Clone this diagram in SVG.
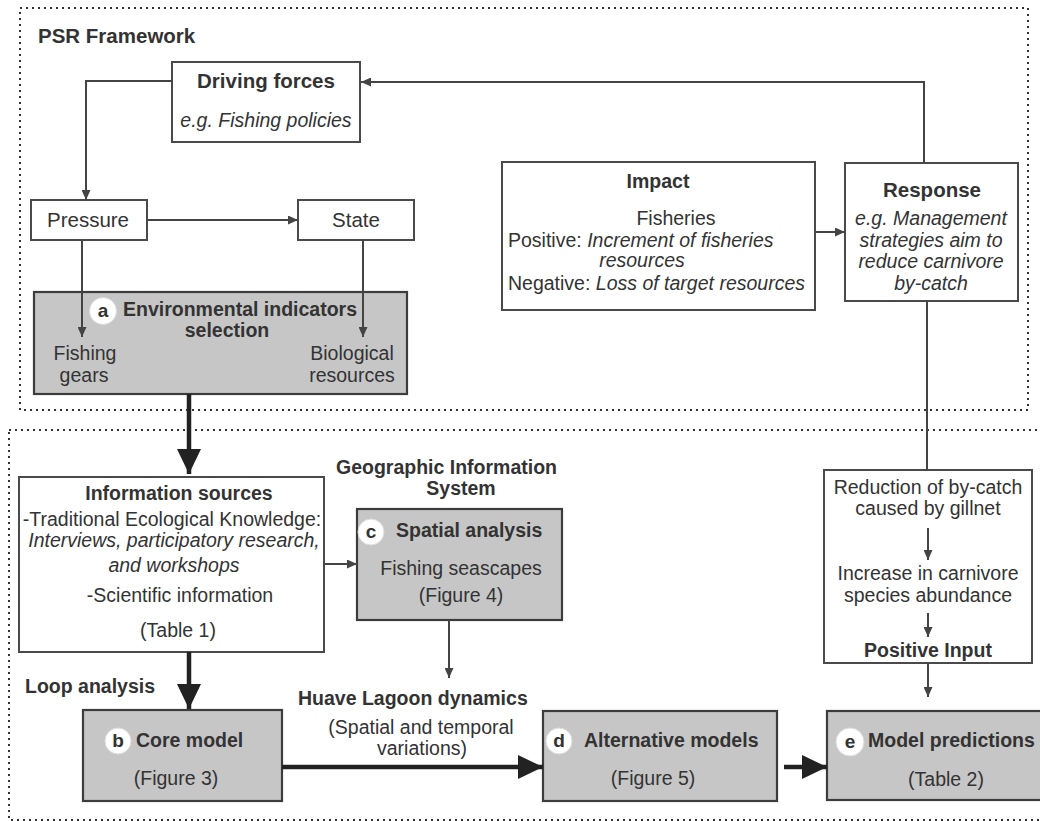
<svg xmlns="http://www.w3.org/2000/svg" width="1040" height="821" viewBox="0 0 1040 821">
<style>
text{font-family:"Liberation Sans",Arial,sans-serif;font-size:19.5px;fill:#333}
.b{font-weight:bold}
.i{font-style:italic}
.m{text-anchor:middle}
.box{fill:#fff;stroke:#4a4a4a;stroke-width:2}
.gbox{fill:#c6c6c6;stroke:#3c3c3c;stroke-width:2.2}
.frame{fill:none;stroke:#333;stroke-width:2;stroke-dasharray:2 4}
.thin{fill:none;stroke:#444;stroke-width:2}
.thick{fill:none;stroke:#222;stroke-width:4.5}
.circ{fill:#fff;stroke:#ddd;stroke-width:1}
.lt{font-size:19px;font-weight:bold;text-anchor:middle}
</style>
<defs>
<marker id="ah" markerUnits="userSpaceOnUse" markerWidth="10" markerHeight="9" refX="10" refY="4.5" orient="auto"><path d="M0,0 L10,4.5 L0,9 z" fill="#444"/></marker>
<marker id="ahT" markerUnits="userSpaceOnUse" markerWidth="25" markerHeight="24" refX="25" refY="12" orient="auto"><path d="M0,0 L25,12 L0,24 z" fill="#222"/></marker>
</defs>
<rect width="1040" height="821" fill="#fff"/>
<g id="frames">
<rect class="frame" x="20" y="8" width="1008" height="402"/>
<rect class="frame" x="9" y="430" width="1040" height="390"/>
</g>
<g id="labels">
<text class="b" x="38" y="43" style="font-size:20.5px">PSR Framework</text>
<text class="b" x="336" y="474">Geographic Information</text>
<text class="b m" x="461" y="495">System</text>
<text class="b" x="25" y="693">Loop analysis</text>
<text class="b" x="298" y="705">Huave Lagoon dynamics</text>
<text class="m" x="421" y="734">(Spatial and temporal</text>
<text class="m" x="422" y="755">variations)</text>
</g>
<g id="n-driving">
<rect class="box" x="172" y="62" width="188" height="80"/>
<text class="b m" x="266" y="88" style="font-size:20.5px">Driving forces</text>
<text class="i m" x="266" y="127">e.g. Fishing policies</text>
</g>
<g id="n-pressure">
<rect class="box" x="31" y="200" width="116" height="40"/>
<text class="m" x="88" y="227" style="font-size:20.5px">Pressure</text>
</g>
<g id="n-state">
<rect class="box" x="298" y="200" width="116" height="40"/>
<text class="m" x="356" y="227" style="font-size:20.5px">State</text>
</g>
<g id="n-impact">
<rect class="box" x="502" y="162" width="313" height="148"/>
<text class="b m" x="658" y="188">Impact</text>
<text class="m" x="676" y="225">Fisheries</text>
<text x="508" y="247">Positive: <tspan class="i">Increment of fisheries</tspan></text>
<text class="i m" x="642" y="267">resources</text>
<text x="508" y="290">Negative: <tspan class="i">Loss of target resources</tspan></text>
</g>
<g id="n-response">
<rect class="box" x="845" y="163" width="173" height="138"/>
<text class="b m" x="932" y="197" style="font-size:20.5px">Response</text>
<text class="i m" x="931" y="225">e.g. Management</text>
<text class="i m" x="931" y="247">strategies aim to</text>
<text class="i m" x="931" y="268">reduce carnivore</text>
<text class="i m" x="931" y="290">by-catch</text>
</g>
<g id="n-a">
<rect class="gbox" x="34" y="292" width="373" height="102"/>
<circle class="circ" cx="103" cy="311" r="13.5"/>
<text class="lt" x="103" y="317">a</text>
<text class="b" x="123" y="316">Environmental indicators</text>
<text class="b m" x="227" y="337">selection</text>
<text class="m" x="85" y="360">Fishing</text>
<text class="m" x="84" y="382">gears</text>
<text class="m" x="352" y="360">Biological</text>
<text class="m" x="352" y="382">resources</text>
</g>
<g id="n-info">
<rect class="box" x="19" y="477" width="305" height="175"/>
<text class="b m" x="179" y="500">Information sources</text>
<text class="m" x="172" y="526">-Traditional Ecological Knowledge:</text>
<text class="i m" x="174" y="547">Interviews, participatory research,</text>
<text class="i m" x="174" y="572">and workshops</text>
<text class="m" x="180" y="602">-Scientific information</text>
<text class="m" x="178" y="637">(Table 1)</text>
</g>
<g id="n-c">
<rect class="gbox" x="357" y="509" width="205" height="111"/>
<circle class="circ" cx="371" cy="532" r="13"/>
<text class="lt" x="371" y="538">c</text>
<text class="b" x="396" y="537">Spatial analysis</text>
<text class="m" x="461" y="575">Fishing seascapes</text>
<text class="m" x="461" y="602">(Figure 4)</text>
</g>
<g id="n-positive">
<rect class="box" x="824" y="470" width="208" height="193"/>
<text class="m" x="928" y="494">Reduction of by-catch</text>
<text class="m" x="928" y="515">caused by gillnet</text>
<text class="m" x="928" y="580">Increase in carnivore</text>
<text class="m" x="928" y="602">species abundance</text>
<text class="b m" x="928" y="657">Positive Input</text>
</g>
<g id="n-b">
<rect class="gbox" x="83" y="710" width="199" height="91"/>
<circle class="circ" cx="118" cy="741" r="13"/>
<text class="lt" x="118" y="747">b</text>
<text class="b" x="136" y="747">Core model</text>
<text class="m" x="176" y="785">(Figure 3)</text>
</g>
<g id="n-d">
<rect class="gbox" x="543" y="711" width="234" height="90"/>
<circle class="circ" cx="559" cy="741" r="13"/>
<text class="lt" x="559" y="747">d</text>
<text class="b" x="584" y="747">Alternative models</text>
<text class="m" x="653" y="785">(Figure 5)</text>
</g>
<g id="n-e">
<rect class="gbox" x="827" y="711" width="220" height="89"/>
<circle class="circ" cx="850" cy="742" r="14"/>
<text class="lt" x="850" y="748">e</text>
<text class="b" x="868" y="747">Model predictions</text>
<text class="m" x="946" y="786">(Table 2)</text>
</g>
<g id="connectors">
<path class="thin" d="M172,81 H86 V200" marker-end="url(#ah)"/>
<path class="thin" d="M147,220 H298" marker-end="url(#ah)"/>
<path class="thin" d="M924,163 V82 H361" marker-end="url(#ah)"/>
<path class="thin" d="M815,232 H845" marker-end="url(#ah)"/>
<path class="thin" d="M82,240 V337" marker-end="url(#ah)"/>
<path class="thin" d="M363,240 V337" marker-end="url(#ah)"/>
<path class="thick" d="M189,394 V474" marker-end="url(#ahT)"/>
<path class="thin" d="M324,564 H357" marker-end="url(#ah)"/>
<path class="thin" d="M449,620 V678" marker-end="url(#ah)"/>
<path class="thick" d="M189,652 V709" marker-end="url(#ahT)"/>
<path class="thick" d="M282,767 H543" marker-end="url(#ahT)"/>
<path class="thick" d="M784,767 H827" marker-end="url(#ahT)"/>
<path class="thin" d="M927,301 V470"/>
<path class="thin" d="M928,528 V560" marker-end="url(#ah)"/>
<path class="thin" d="M928,613 V637" marker-end="url(#ah)"/>
<path class="thin" d="M928,663 V697" marker-end="url(#ah)"/>
</g>
</svg>
